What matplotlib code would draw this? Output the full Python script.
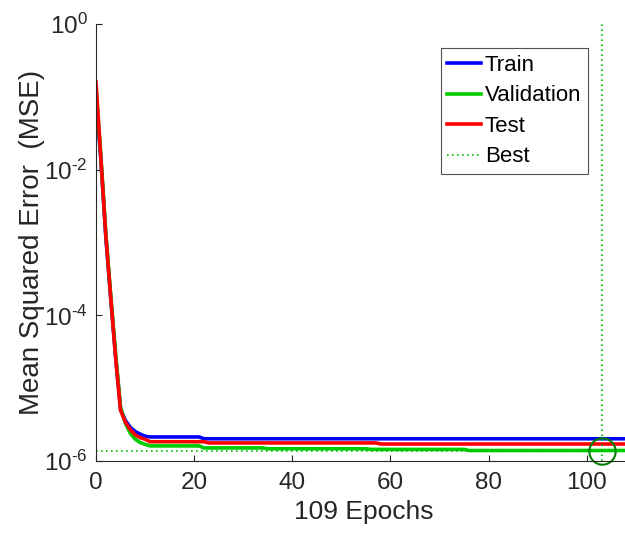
import numpy as np
import matplotlib
matplotlib.use("Agg")
import matplotlib.pyplot as plt
from matplotlib.ticker import FixedLocator, NullLocator

plt.rcParams['font.family'] = ['Liberation Sans', 'DejaVu Sans']
plt.rcParams['mathtext.fontset'] = 'custom'
plt.rcParams['mathtext.rm'] = 'Liberation Sans'
plt.rcParams['mathtext.it'] = 'Liberation Sans:italic'

# per-epoch performance (MSE), epochs 0..109
train_mse = ([0.10, 0.0135, 1.2e-3, 1.7e-4, 2.7e-5, 5.2e-6, 3.6e-6, 2.9e-6, 2.55e-6, 2.35e-6, 2.2e-6]
             + [2.15e-6] * 11 + [2.03e-6] * 88)
val_mse = ([0.13, 0.015, 1.35e-3, 1.9e-4, 3.0e-5, 5.5e-6, 3.3e-6, 2.4e-6, 2.0e-6, 1.8e-6, 1.7e-6]
           + [1.62e-6] * 11 + [1.52e-6] * 13 + [1.48e-6] * 21 + [1.45e-6] * 20 + [1.40e-6] * 34)
test_mse = ([0.16, 0.0141, 1.26e-3, 1.78e-4, 2.6e-5, 5.0e-6, 3.4e-6, 2.7e-6, 2.3e-6, 2.1e-6, 2.0e-6]
            + [1.85e-6] * 12 + [1.78e-6] * 35 + [1.72e-6] * 52)
n_epochs = 109
best_epoch = 103
best_perf = val_mse[best_epoch]

epochs = np.arange(len(train_mse))

fig = plt.figure(figsize=(6.25, 5.35), dpi=100)
ax = fig.add_axes([0.1536, 0.138, 0.856, 0.817])

ax.semilogy(epochs, train_mse, color=(0, 0, 1), lw=2.6, label="Train")
ax.semilogy(epochs, val_mse, color=(0, 0.8, 0), lw=2.6, label="Validation")
ax.semilogy(epochs, test_mse, color=(1, 0, 0), lw=2.6, label="Test")
ax.plot([best_epoch, best_epoch], [1e-6, 1], color=(0, 0.75, 0), lw=1.2, ls=(0, (1, 2)), label="Best")
ax.plot([0, best_epoch], [best_perf, best_perf], color=(0, 0.75, 0), lw=1.2, ls=(0, (1, 2)))
ax.plot([best_epoch], [best_perf], "o", ms=19, mfc="none", mec=(0, 0.5, 0), mew=1.5, clip_on=False)

ax.set_xlim(0, n_epochs)
ax.set_ylim(1e-6, 1)
ax.yaxis.set_major_locator(FixedLocator([1e-6, 1e-4, 1e-2, 1e0]))
ax.yaxis.set_minor_locator(NullLocator())
ax.set_yticklabels([r"$10^{\text{-6}}$", r"$10^{\text{-4}}$", r"$10^{\text{-2}}$", r"$10^{0}$"])
ax.set_xticks([0, 20, 40, 60, 80, 100])

for s in ["top", "right"]:
    ax.spines[s].set_visible(False)
for s in ["left", "bottom"]:
    ax.spines[s].set_color("#262626")
    ax.spines[s].set_linewidth(0.8)
ax.tick_params(direction="in", length=4, width=0.8, colors="#262626", labelsize=17.5, pad=8)
ax.tick_params(axis="y", pad=6)

ax.set_xlabel("109 Epochs", fontsize=19, color="#262626")
ax.set_ylabel("Mean Squared Error  (MSE)", fontsize=20, color="#262626", labelpad=-1)

leg = ax.legend(loc="upper right", bbox_to_anchor=(0.941, 0.910), bbox_transform=fig.transFigure,
                fontsize=16, frameon=True, fancybox=False, borderaxespad=0, handlelength=1.5,
                handletextpad=0.2, labelspacing=0.43, borderpad=0.3)
leg.get_frame().set_edgecolor("#262626")
leg.get_frame().set_linewidth(0.8)

fig.savefig("out.png", dpi=100)
